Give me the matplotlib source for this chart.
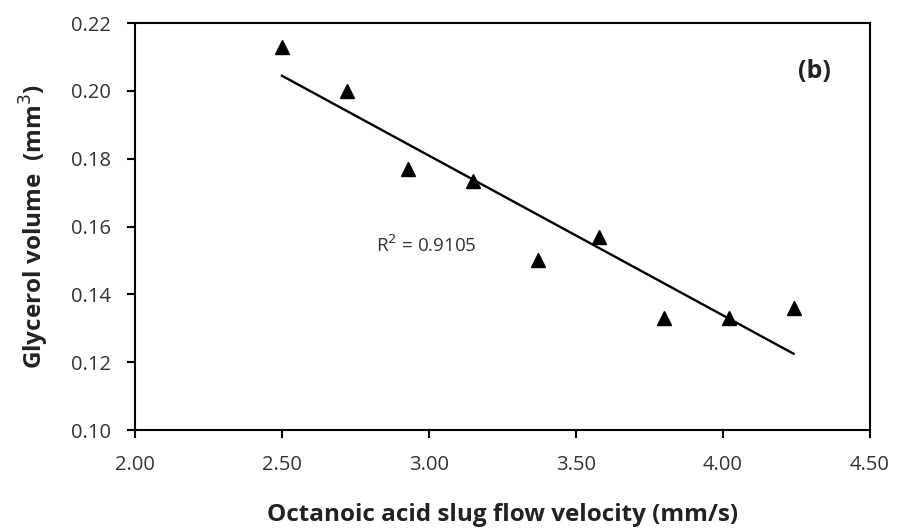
import matplotlib.pyplot as plt
import numpy as np

plt.rcParams['font.family'] = ['Open Sans', 'DejaVu Sans']

# slug flow velocity (mm/s) vs glycerol volume (mm^3)
velocity = [2.50, 2.72, 2.93, 3.15, 3.37, 3.58, 3.80, 4.02, 4.24]
volume = [0.2130, 0.1999, 0.1770, 0.1735, 0.1501, 0.1570, 0.1329, 0.1329, 0.1359]
x_ticks = [2.00, 2.50, 3.00, 3.50, 4.00, 4.50]
y_ticks = [0.10, 0.12, 0.14, 0.16, 0.18, 0.20, 0.22]

fig = plt.figure(figsize=(8.98, 5.28), dpi=100)
ax = fig.add_axes([0.1503, 0.1856, 0.8185, 0.7708])

ax.plot(velocity, volume, linestyle='none', marker='^', markersize=10,
        color='black')

# linear trendline
slope, icpt = np.polyfit(velocity, volume, 1)
xl = np.array([velocity[0], velocity[-1]])
ax.plot(xl, slope * xl + icpt, color='black', linewidth=1.7)

ax.set_xlim(2.0, 4.5)
ax.set_ylim(0.10, 0.22)
ax.set_xticks(x_ticks)
ax.set_xticklabels(['%.2f' % v for v in x_ticks])
ax.set_yticks(y_ticks)
ax.set_yticklabels(['%.2f' % v for v in y_ticks])

for s in ax.spines.values():
    s.set_linewidth(1.5)
ax.tick_params(direction='out', length=6, width=1.5, labelsize=14.5,
               labelcolor='#333333')
ax.tick_params(axis='x', pad=12)
ax.tick_params(axis='y', pad=11)

ax.set_xlabel('Octanoic acid slug flow velocity (mm/s)', fontsize=17.5,
              fontweight='bold', color='#222222', labelpad=20)
ax.set_ylabel('Glycerol volume  (mm$^3$)', fontsize=17.5,
              fontweight='bold', color='#222222', labelpad=15)

ax.text(2.99, 0.1545, 'R$^2$ = 0.9105', fontsize=13.5, color='#333333',
        ha='center', va='center')
ax.text(0.925, 0.88, '(b)', transform=ax.transAxes, fontsize=18,
        fontweight='bold', color='#222222', ha='center', va='center')

fig.savefig('out.png', dpi=100)
